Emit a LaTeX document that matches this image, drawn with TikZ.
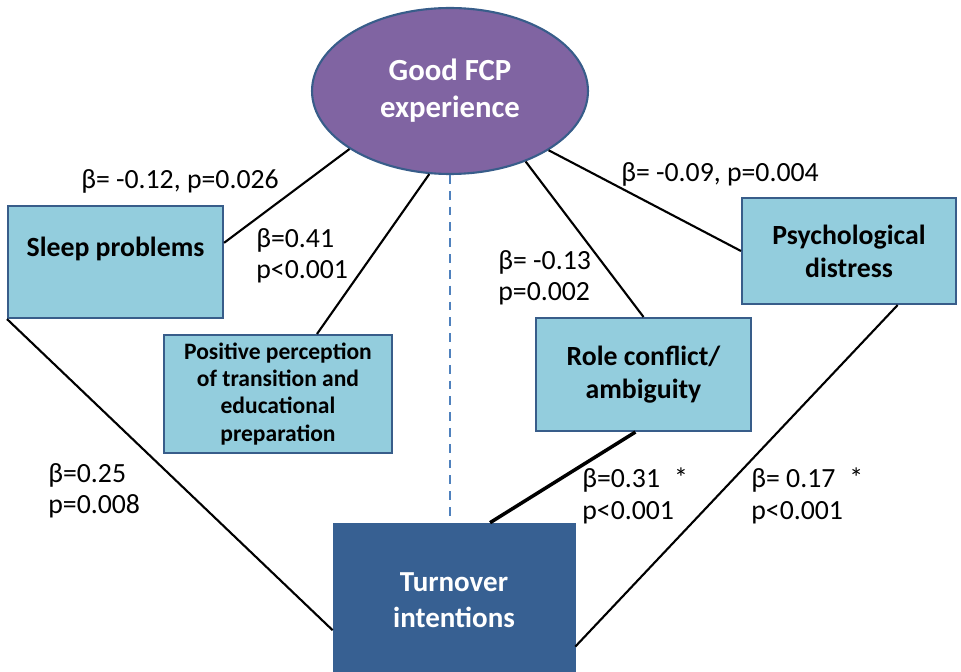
\documentclass[tikz,border=0pt]{standalone}
\usepackage{fontspec}
\setmainfont{Carlito}
\usetikzlibrary{shapes.geometric}
\definecolor{fcppurple}{HTML}{8064A2}
\definecolor{boxedge}{HTML}{385D8A}
\definecolor{boxfill}{HTML}{93CDDD}
\definecolor{turnfill}{HTML}{376092}
\definecolor{dashblue}{HTML}{4F81BD}
\begin{document}
\begin{tikzpicture}[x=0.02cm, y=-0.02cm,
        varbox/.style={rectangle, draw=boxedge, fill=boxfill, line width=1.2pt,
          inner sep=0pt, align=center, font=\bfseries\fontsize{15.8}{18.8}\selectfont},
        lbl/.style={inner sep=0pt, align=left, font=\fontsize{15.8}{17.8}\selectfont},
        path/.style={line width=1.2pt}
      ]
      \useasboundingbox (0, 0) rectangle (961, 672);
      % top
      \node[ellipse, draw=boxedge, fill=fcppurple, line width=1.2pt, text=white,
        minimum width=5.52cm, minimum height=3.32cm, align=center,
        font=\bfseries\fontsize{17.5}{21}\selectfont] at (450, 91) (fcp) {Good FCP\\experience};
      % middle
      \node[varbox, minimum width=4.3cm, minimum height=2.24cm] at (115.5, 262) (sleep) {Sleep problems\\[-6.8pt]\strut};
      \node[varbox, minimum width=4.56cm, minimum height=2.36cm,
        font=\bfseries\fontsize{13.4}{15.4}\selectfont] at (278, 394) (pos)
        {Positive perception\\of transition and\\educational\\preparation};
      \node[varbox, minimum width=4.3cm, minimum height=2.26cm] at (643.5, 374.5) (role) {Role conflict/\\ambiguity};
      \node[varbox, minimum width=4.28cm, minimum height=2.12cm] at (849, 251) (psych) {Psychological\\distress};
      % bottom
      \node[rectangle, draw=turnfill, fill=turnfill, text=white, minimum width=4.84cm,
        minimum height=3.08cm, align=center,
        font=\bfseries\fontsize{16.5}{20.5}\selectfont] at (454, 600) (turn) {Turnover\\intentions};
      % edges
      \draw[path] (fcp.210.6) -- (sleep.10.5);
      \draw[path] (fcp.256.5) -- (pos.57);
      \draw[path] (fcp.317.4) -- (role.north);
      \draw[path] (fcp.329.1) -- (psych.west);
      \draw[line width=1.5pt, dashblue, dash pattern=on 5pt off 4pt] (fcp.south) -- (fcp.south |- turn.north);
      \draw[path] (sleep.south west) -- (turn.194);
      \draw[line width=2pt] (role.262) -- (turn.65);
      \draw[path] (psych.312.8) -- (turn.339);
      % labels
      \node[lbl] at (180, 181) (l1) {β= -0.12, p=0.026};
      \node[lbl, anchor=west] at (256, 256) (l2) {β=0.41\\p<0.001};
      \node[lbl, anchor=west] at (498, 278) (l3) {β= -0.13\\p=0.002};
      \node[lbl] at (720, 174) (l4) {β= -0.09, p=0.004};
      \node[lbl, anchor=west] at (48, 491) (l5) {β=0.25\\p=0.008};
      \node[lbl, anchor=west] at (582, 496) (l6) {β=0.31\enspace *\\p<0.001};
      \node[lbl, anchor=west] at (751, 496) (l7) {β= 0.17\enspace *\\p<0.001};
  \end{tikzpicture}
\end{document}
